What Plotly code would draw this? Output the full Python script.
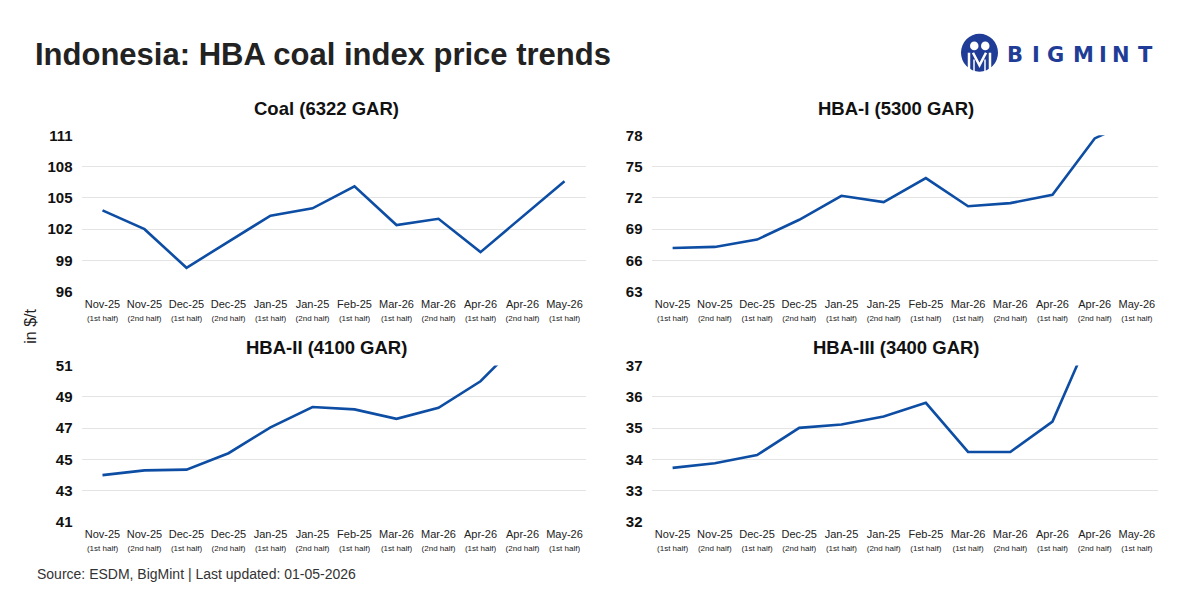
import plotly.graph_objects as go

# ---------------- data ----------------
months = ["Nov-25", "Nov-25", "Dec-25", "Dec-25", "Jan-25", "Jan-25",
          "Feb-25", "Mar-26", "Mar-26", "Apr-26", "Apr-26", "May-26"]
halves = ["(1st half)", "(2nd half)", "(1st half)", "(2nd half)", "(1st half)", "(2nd half)",
          "(1st half)", "(1st half)", "(2nd half)", "(1st half)", "(2nd half)", "(1st half)"]

coal_6322 = [103.8, 102.0, 98.3, 100.8, 103.3, 104.0, 106.1, 102.4, 103.0, 99.8, 103.2, 106.6]
hba_1 = [67.2, 67.3, 68.0, 69.9, 72.2, 71.6, 73.9, 71.2, 71.5, 72.3, 77.7, 79.6]
hba_2 = [44.0, 44.3, 44.35, 45.4, 47.05, 48.35, 48.2, 47.6, 48.3, 50.0, 52.7, None]
hba_3 = [33.73, 33.88, 34.14, 35.01, 35.12, 35.37, 35.81, 34.24, 34.24, 35.21, 38.3, None]

panel_titles = ["Coal (6322 GAR)", "HBA-I (5300 GAR)", "HBA-II (4100 GAR)", "HBA-III (3400 GAR)"]
y_ranges = [(96, 111), (63, 78), (41, 51), (32, 37)]
y_steps = [3, 3, 2, 1]

title_text = "Indonesia: HBA coal index price trends"
source_text = "Source: ESDM, BigMint | Last updated: 01-05-2026"
y_title = "in $/t"
logo_letters = ["B", "I", "G", "M", "I", "N", "T"]

# ---------------- layout helpers ----------------
W, H = 1200, 600
def px(x):
    return x / W
def py(y):
    return 1 - y / H

LINE = "#0d4ea4"
GRID = "#e4e4e4"
BLUE_LOGO = "#1f3d96"
FONT = "Liberation Sans, Arial, sans-serif"

# pixel boxes of the four plot areas: (x0, x1, ytop, ybottom)
boxes = [(81.5, 585.5, 130, 291), (651.5, 1158, 130, 291),
         (81.5, 585.5, 367, 528), (651.5, 1158, 367, 528)]
title_pos = [(326, 102), (896, 102), (326, 348), (896, 348)]

series = [coal_6322, hba_1, hba_2, hba_3]
xs = list(range(len(months)))
ticktext = [f"<span style='font-size:11px'>{m}</span><br><span style='font-size:8px'>{h}</span>"
            for m, h in zip(months, halves)]

fig = go.Figure()
layout = dict(
    width=W, height=H,
    margin=dict(l=0, r=0, t=0, b=0),
    paper_bgcolor="white", plot_bgcolor="white",
    showlegend=False,
    font=dict(family=FONT, color="#222"),
)

annotations = []
for i, (vals, box, rng, step) in enumerate(zip(series, boxes, y_ranges, y_steps)):
    k = "" if i == 0 else str(i + 1)
    fig.add_trace(go.Scatter(
        x=xs, y=vals, mode="lines",
        line=dict(color=LINE, width=2.6),
        connectgaps=False,
        xaxis="x" + k, yaxis="y" + k,
        hoverinfo="skip",
    ))
    x0, x1, yt, yb = box
    layout["xaxis" + k] = dict(
        domain=[px(x0), px(x1)], anchor="y" + k,
        range=[-0.5, len(months) - 0.5],
        tickmode="array", tickvals=xs, ticktext=ticktext,
        tickfont=dict(size=10, color="#222", family=FONT),
        showgrid=False, zeroline=False, showline=False, ticks="",
        ticklabelstandoff=5,
    )
    layout["yaxis" + k] = dict(
        domain=[py(yb), py(yt)], anchor="x" + k,
        range=list(rng), dtick=step, tick0=rng[0],
        tickfont=dict(size=15, color="#111", family=FONT, weight="bold"),
        showgrid=True, gridcolor=GRID, gridwidth=1,
        zeroline=False, showline=False, ticks="",
        ticklabelstandoff=8,
    )
    tx, ty = title_pos[i]
    annotations.append(dict(
        x=px(tx), y=py(ty), xref="paper", yref="paper",
        text=f"<b>{panel_titles[i]}</b>", showarrow=False,
        xanchor="center", yanchor="middle",
        font=dict(size=18.5, color="#111", family=FONT),
    ))

# main title
annotations.append(dict(
    x=px(33), y=py(47), xref="paper", yref="paper",
    text=f"<b>{title_text}</b>", showarrow=False,
    xanchor="left", yanchor="middle",
    font=dict(size=31, color="#222", family=FONT),
))
# y axis title
annotations.append(dict(
    x=px(31), y=py(327), xref="paper", yref="paper",
    text=y_title, showarrow=False, textangle=-90,
    xanchor="center", yanchor="middle",
    font=dict(size=16, color="#222", family=FONT),
))
# source
annotations.append(dict(
    x=px(35), y=py(581), xref="paper", yref="paper",
    text=source_text, showarrow=False,
    xanchor="left", yanchor="middle",
    font=dict(size=14, color="#333", family=FONT),
))
# logo word
letter_x = [1015, 1036, 1055, 1083, 1103, 1121, 1145]
for ch, lx in zip(logo_letters, letter_x):
    annotations.append(dict(
        x=px(lx), y=py(47.5), xref="paper", yref="paper",
        text=f"<b>{ch}</b>", showarrow=False,
        xanchor="center", yanchor="middle",
        font=dict(size=21, color=BLUE_LOGO, family="DejaVu Sans, sans-serif"),
    ))

# logo icon
shapes = [
    dict(type="circle", xref="paper", yref="paper",
         x0=px(961), x1=px(998), y0=py(64.5), y1=py(25.5),
         fillcolor=BLUE_LOGO, line=dict(width=0)),
    dict(type="circle", xref="paper", yref="paper",
         x0=px(970), x1=px(978.5), y0=py(42.5), y1=py(33.5),
         fillcolor="white", line=dict(width=0)),
    dict(type="circle", xref="paper", yref="paper",
         x0=px(981), x1=px(989.5), y0=py(42.5), y1=py(33.5),
         fillcolor="white", line=dict(width=0)),
]
def path(points):
    return "M " + " L ".join(f"{px(a):.5f},{py(b):.5f}" for a, b in points)
shapes.append(dict(type="path", xref="paper", yref="paper",
                   path=path([(969, 45), (969, 66)]),
                   line=dict(color="white", width=2.5)))
shapes.append(dict(type="path", xref="paper", yref="paper",
                   path=path([(990, 45), (990, 66)]),
                   line=dict(color="white", width=2.5)))
shapes.append(dict(type="path", xref="paper", yref="paper",
                   path=path([(973, 45), (979.5, 58), (986, 45)]),
                   line=dict(color="white", width=2.5)))
shapes.append(dict(type="path", xref="paper", yref="paper",
                   path=path([(974, 52), (974, 66)]),
                   line=dict(color="white", width=1.5)))
shapes.append(dict(type="path", xref="paper", yref="paper",
                   path=path([(985, 52), (985, 66)]),
                   line=dict(color="white", width=1.5)))

layout["annotations"] = annotations
layout["shapes"] = shapes
fig.update_layout(**layout)

fig.write_html("out.html", include_plotlyjs=True, full_html=True,
               config={"displayModeBar": False})
